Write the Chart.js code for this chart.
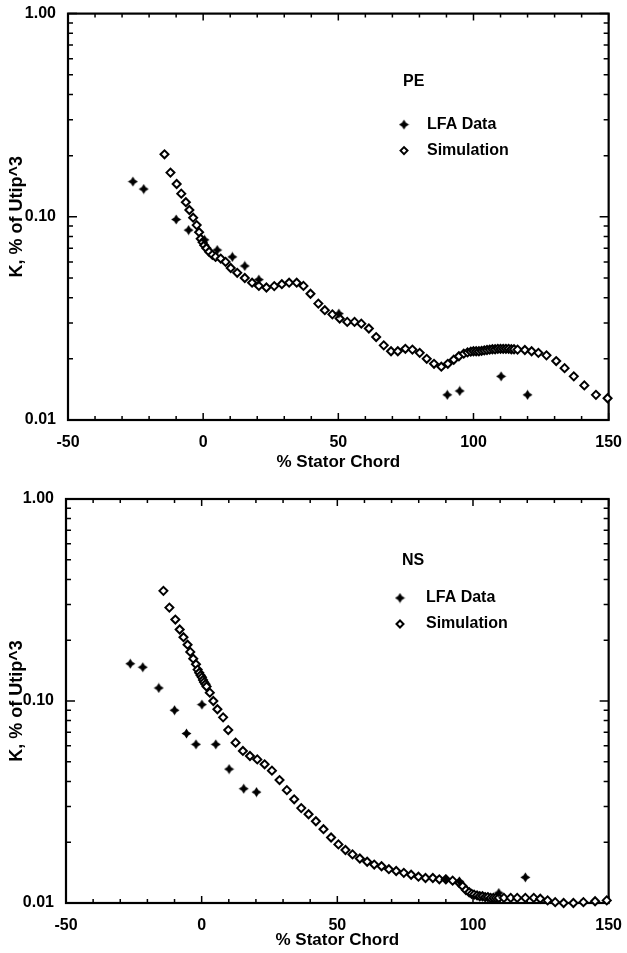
<!DOCTYPE html>
<html>
<head>
<meta charset="utf-8">
<script src="https://cdn.jsdelivr.net/npm/chart.js@4.4.1/dist/chart.umd.min.js"></script>
<style>
  body { margin: 0; background: #fff; }
  .wrap { position: absolute; left: 0; width: 627px; }
  canvas { display: block; }
</style>
</head>
<body>
<div class="wrap" style="top:0;height:476px"><canvas id="pe-chart" width="627" height="476"></canvas></div>
<div class="wrap" style="top:476px;height:477px"><canvas id="ns-chart" width="627" height="477"></canvas></div>
<script>
// PE case: LFA measurements and simulation
const peLfaX = [-26, -22, -10, -5.4, 0.5, 5.2, 10.8, 15.4, 20.6, 50.2, 90.3, 94.9, 110.2, 120];
const peLfaK = [0.149, 0.137, 0.097, 0.086, 0.077, 0.0686, 0.0635, 0.0573, 0.0491, 0.0334, 0.0133, 0.0139, 0.0164, 0.0133];

const peSimX = [-14.3, -12.1, -9.8, -8.1, -6.4, -5.1, -3.7, -2.4, -1.5, -0.9, -0.2, 0.4, 1.2, 2.2, 3.4, 4.6,
  6.5, 8.3, 10.2, 12.6, 15.4, 18.1, 20.6, 23.4, 26.3, 29.1, 31.8, 34.6, 37.1, 39.7, 42.6, 45.0, 47.8,
  50.5, 53.3, 56.0, 58.5, 61.3, 64.0, 66.8, 69.5, 72.0, 74.8, 77.4, 80.1, 82.7, 85.4, 88.1, 90.5, 92.7,
  94.6, 96.4, 97.8, 99.0, 100.0, 101.0, 102.0, 103.0, 104.0, 105.0, 106.0, 107.0, 108.0, 109.0, 110.0,
  111.0, 112.0, 113.0, 114.0, 115.0, 116.3, 119.0, 121.5, 124.0, 127.0, 130.6, 133.7, 137.1, 141.0,
  145.3, 149.6];
const peSimK = [0.203, 0.165, 0.145, 0.130, 0.118, 0.108, 0.099, 0.091, 0.084, 0.078, 0.075, 0.0725, 0.070,
  0.0673, 0.065, 0.0635, 0.0623, 0.060, 0.056, 0.053, 0.050, 0.0474, 0.0457, 0.0449, 0.0456, 0.0466,
  0.0474, 0.0474, 0.0457, 0.0418, 0.0374, 0.0347, 0.0331, 0.0316, 0.0304, 0.0304, 0.0298, 0.0282,
  0.0256, 0.0233, 0.0218, 0.0218, 0.0224, 0.0222, 0.0214, 0.0200, 0.0189, 0.0183, 0.0189, 0.0198,
  0.0206, 0.0212, 0.0215, 0.0217, 0.0218, 0.0218, 0.0218, 0.0219, 0.0220, 0.0221, 0.0222, 0.0223,
  0.0223, 0.0224, 0.0224, 0.0224, 0.0224, 0.0224, 0.0223, 0.0223, 0.0222, 0.0221, 0.0218, 0.0214,
  0.0208, 0.0195, 0.0180, 0.0164, 0.0148, 0.0133, 0.0128];

// NS case
const nsLfaX = [-26.3, -21.7, -15.8, -10, -5.6, -2.1, 0.1, 5.2, 10.1, 15.5, 20.2, 90, 95, 109.5, 119.3];
const nsLfaK = [0.153, 0.147, 0.116, 0.090, 0.069, 0.061, 0.096, 0.061, 0.046, 0.0368, 0.0354, 0.0131, 0.0128, 0.0112, 0.0134];

const nsSimX = [-14.1, -11.9, -9.7, -8.1, -6.7, -5.2, -4.2, -3.1, -2.1, -1.5, -0.9, -0.4, 0.1, 0.5, 0.9, 1.4,
  1.8, 3.0, 4.3, 5.8, 7.9, 9.8, 12.5, 15.2, 17.8, 20.5, 23.2, 25.9, 28.7, 31.4, 34.1, 36.7, 39.4, 42.1,
  44.9, 47.7, 50.4, 53.0, 55.6, 58.3, 61.0, 63.6, 66.3, 69.0, 71.7, 74.5, 77.2, 79.9, 82.5, 85.2, 87.6,
  90.0, 92.5, 94.9, 96.2, 97.4, 98.6, 99.5, 100.4, 101.5, 102.5, 103.5, 104.5, 105.5, 106.5, 107.5,
  108.5, 109.5, 111.4, 113.9, 116.3, 119.3, 122.4, 124.8, 127.5, 130.3, 133.4, 137.0, 140.7, 145.0, 149.3];
const nsSimK = [0.351, 0.290, 0.253, 0.226, 0.207, 0.190, 0.175, 0.162, 0.152, 0.143, 0.138, 0.134, 0.131,
  0.127, 0.124, 0.121, 0.118, 0.110, 0.100, 0.091, 0.083, 0.0718, 0.0622, 0.0566, 0.0534, 0.0514,
  0.0486, 0.0452, 0.0406, 0.0362, 0.0326, 0.0295, 0.0275, 0.0254, 0.0232, 0.0211, 0.0195, 0.0183,
  0.0174, 0.0166, 0.0160, 0.0155, 0.0152, 0.0147, 0.0144, 0.0141, 0.0138, 0.0135, 0.0133, 0.0133,
  0.0131, 0.0131, 0.0129, 0.0126, 0.0121, 0.0116, 0.0113, 0.0111, 0.0110, 0.0109, 0.0108, 0.0108,
  0.0107, 0.0107, 0.0106, 0.0106, 0.0106, 0.0106, 0.0106, 0.0106, 0.0106, 0.0106, 0.0106, 0.0105,
  0.0103, 0.0101, 0.0100, 0.0100, 0.0101, 0.0102, 0.0103];

// axis ticks
const xMajor = [-50, 0, 50, 100, 150];
const xMinor = [-40, -30, -20, -10, 10, 20, 30, 40, 60, 70, 80, 90, 110, 120, 130, 140];
const yMajor = [0.01, 0.1, 1];
const yMinor = [0.02, 0.03, 0.04, 0.05, 0.06, 0.07, 0.08, 0.09, 0.2, 0.3, 0.4, 0.5, 0.6, 0.7, 0.8, 0.9];

const FONT = '"Liberation Sans", Arial, Helvetica, sans-serif';

let peChart = null;
let nsChart = null;

// filled four-point star for the LFA points
function makeStar(size) {
    const c = document.createElement('canvas');
    c.width = c.height = size;
    const g = c.getContext('2d');
    const m = size / 2, r = size / 2 - 0.5, q = r * 0.38;
    g.beginPath();
    g.moveTo(m, m - r);
    g.lineTo(m + q, m - q);
    g.lineTo(m + r, m);
    g.lineTo(m + q, m + q);
    g.lineTo(m, m + r);
    g.lineTo(m - q, m + q);
    g.lineTo(m - r, m);
    g.lineTo(m - q, m - q);
    g.closePath();
    g.fillStyle = '#000';
    g.fill();
    return c;
}
const starImg = makeStar(11);

function toPoints(xs, ys) {
    return xs.map((x, i) => ({ x: x, y: ys[i] }));
}

// box around the plot with inward tick marks on all four sides
const frameTicks = {
    id: 'frameTicks',
    beforeDatasetsDraw(chart) {
        const { ctx, chartArea: a, scales } = chart;
        const xs = scales.x, ys = scales.y;
        ctx.save();
        ctx.strokeStyle = '#000';
        ctx.lineWidth = 1.5;
        ctx.beginPath();
        xMajor.concat(xMinor).forEach(v => {
            const px = xs.getPixelForValue(v);
            const len = xMajor.includes(v) ? 7 : 4;
            ctx.moveTo(px, a.bottom); ctx.lineTo(px, a.bottom - len);
            ctx.moveTo(px, a.top); ctx.lineTo(px, a.top + len);
        });
        yMajor.concat(yMinor).forEach(v => {
            const py = ys.getPixelForValue(v);
            const len = yMajor.includes(v) ? 9 : 5;
            ctx.moveTo(a.left, py); ctx.lineTo(a.left + len, py);
            ctx.moveTo(a.right, py); ctx.lineTo(a.right - len, py);
        });
        ctx.stroke();
        ctx.lineWidth = 2.2;
        ctx.strokeRect(a.left, a.top, a.right - a.left, a.bottom - a.top);
        ctx.restore();
    }
};

// case name and marker key inside the plot
const caseLegend = {
    id: 'caseLegend',
    afterDraw(chart, args, opts) {
        const { ctx, chartArea: a } = chart;
        const x0 = a.left + opts.dx;
        ctx.save();
        ctx.fillStyle = '#000';
        ctx.font = 'bold 16px ' + FONT;
        ctx.textBaseline = 'middle';
        ctx.fillText(opts.title, x0, a.top + opts.dy);
        ctx.fillText('LFA Data', x0 + 24, a.top + opts.rows[0]);
        ctx.fillText('Simulation', x0 + 24, a.top + opts.rows[1]);
        ctx.drawImage(starImg, x0 + opts.mark - 5.5, a.top + opts.rows[0] - 5.5);
        const cy = a.top + opts.rows[1], cx = x0 + opts.mark, r = 3.5;
        ctx.beginPath();
        ctx.moveTo(cx - r, cy); ctx.lineTo(cx, cy - r); ctx.lineTo(cx + r, cy); ctx.lineTo(cx, cy + r);
        ctx.closePath();
        ctx.fillStyle = '#fff';
        ctx.fill();
        ctx.lineWidth = 2;
        ctx.strokeStyle = '#000';
        ctx.stroke();
        ctx.restore();
    }
};

function buildConfig(lfaX, lfaK, simX, simK, fit) {
    return {
        type: 'scatter',
        data: {
            datasets: [{
                label: 'LFA Data',
                data: toPoints(lfaX, lfaK),
                pointStyle: starImg,
                clip: false
            }, {
                label: 'Simulation',
                data: toPoints(simX, simK),
                pointStyle: 'rectRot',
                pointRadius: 4,
                backgroundColor: '#fff',
                borderColor: '#000',
                borderWidth: 2,
                clip: false
            }]
        },
        options: {
            responsive: false,
            animation: false,
            layout: { padding: { left: 0, top: fit.top, right: fit.right, bottom: 0 } },
            plugins: {
                legend: { display: false },
                tooltip: { enabled: false },
                caseLegend: fit.legend
            },
            scales: {
                x: {
                    type: 'linear',
                    min: -50,
                    max: 150,
                    grid: { display: false },
                    border: { display: false },
                    ticks: {
                        stepSize: 50,
                        padding: 5,
                        color: '#000',
                        font: { family: FONT, size: 16, weight: 'bold' }
                    },
                    title: {
                        display: true,
                        text: '% Stator Chord',
                        color: '#000',
                        font: { family: FONT, size: 17, weight: 'bold' },
                        padding: { top: 0, bottom: fit.xTitlePad }
                    },
                    afterFit(scale) { scale.height = fit.xHeight; }
                },
                y: {
                    type: 'logarithmic',
                    min: 0.01,
                    max: 1,
                    grid: { display: false },
                    border: { display: false },
                    afterBuildTicks(scale) {
                        scale.ticks = yMajor.map(v => ({ value: v }));
                    },
                    ticks: {
                        padding: 4,
                        color: '#000',
                        font: { family: FONT, size: 16, weight: 'bold' },
                        callback: v => Number(v).toFixed(2)
                    },
                    title: {
                        display: true,
                        text: 'K, % of Utip^3',
                        color: '#000',
                        font: { family: FONT, size: 18, weight: 'bold' },
                        padding: { top: 6, bottom: 0 }
                    },
                    afterFit(scale) { scale.width = fit.yWidth; }
                }
            }
        },
        plugins: [frameTicks, caseLegend]
    };
}

function renderPeChart() {
    const canvas = document.getElementById('pe-chart');
    if (peChart) peChart.destroy();
    peChart = new Chart(canvas.getContext('2d'), buildConfig(peLfaX, peLfaK, peSimX, peSimK, {
        top: 12, right: 14, xHeight: 56, yWidth: 68, xTitlePad: 3,
        legend: { title: 'PE', dx: 335, dy: 68, rows: [111, 137], mark: 1 }
    }));
}

function renderNsChart() {
    const canvas = document.getElementById('ns-chart');
    if (nsChart) nsChart.destroy();
    nsChart = new Chart(canvas.getContext('2d'), buildConfig(nsLfaX, nsLfaK, nsSimX, nsSimK, {
        top: 23, right: 15, xHeight: 50, yWidth: 66, xTitlePad: 2,
        legend: { title: 'NS', dx: 336, dy: 62, rows: [99, 125], mark: -2 }
    }));
}

renderPeChart();
renderNsChart();
</script>
</body>
</html>
